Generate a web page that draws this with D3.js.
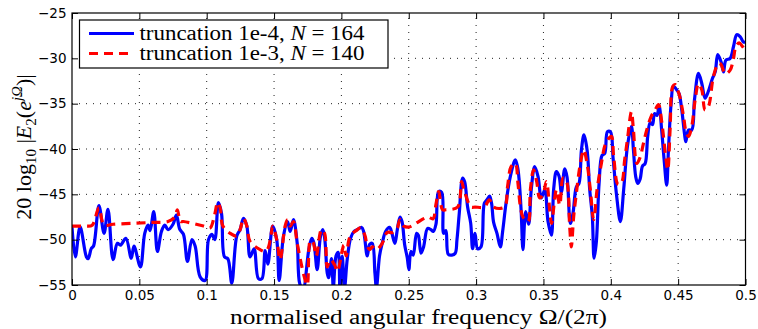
<!DOCTYPE html>
<html><head><meta charset="utf-8">
<script src="https://cdn.jsdelivr.net/npm/d3@7"></script>
<style>body{margin:0;background:#fff} svg{display:block}</style>
</head><body>
<svg id="c" width="758" height="329"></svg>
<script>
const blueFreq = [0.000,0.0025,0.006,0.0107,0.012,0.0144,0.016,0.020,0.0238,0.0267,0.0305,0.0337,0.036,0.040,0.044,0.046,0.0508,0.054,0.0565,0.058,0.0607,0.0634,0.0664,0.0689,0.0713,0.075,0.0775,0.080,0.0827,0.0857,0.089,0.0914,0.0951,0.0988,0.1013,0.1038,0.106,0.1087,0.111,0.1132,0.1157,0.1186,0.1223,0.1248,0.1273,0.1298,0.1322,0.1352,0.1384,0.141,0.1434,0.1454,0.149,0.152,0.1538,0.157,0.160,0.162,0.1644,0.1672,0.169,0.1715,0.1758,0.178,0.1795,0.182,0.1845,0.1862,0.1877,0.1895,0.1905,0.1927,0.194,0.196,0.1976,0.1989,0.2006,0.2023,0.2043,0.2068,0.2093,0.2117,0.215,0.2165,0.2192,0.221,0.2229,0.2249,0.226,0.2283,0.2303,0.2328,0.2358,0.2375,0.2397,0.2415,0.2435,0.245,0.247,0.2489,0.2501,0.2516,0.2533,0.2558,0.2571,0.2591,0.261,0.264,0.2665,0.2682,0.2702,0.2722,0.2745,0.2759,0.2776,0.2793,0.282,0.2845,0.2858,0.2875,0.290,0.2915,0.2937,0.296,0.2974,0.2992,0.3011,0.3036,0.3061,0.3081,0.310,0.3115,0.313,0.3155,0.318,0.3197,0.3222,0.3254,0.3291,0.3308,0.332,0.3335,0.3348,0.3368,0.339,0.341,0.3435,0.346,0.3484,0.351,0.3534,0.3559,0.3576,0.3596,0.3616,0.3633,0.3658,0.3675,0.370,0.372,0.3744,0.3764,0.3782,0.3801,0.3824,0.3843,0.3863,0.3876,0.3893,0.3913,0.3935,0.3955,0.3975,0.3997,0.4017,0.4042,0.4071,0.4096,0.4123,0.4153,0.4168,0.4185,0.42,0.4218,0.4235,0.4255,0.4274,0.4292,0.431,0.4324,0.4342,0.4359,0.4378,0.4396,0.4415,0.4428,0.4448,0.4465,0.449,0.4507,0.4527,0.4547,0.4557,0.4577,0.4601,0.4621,0.4651,0.4676,0.470,0.4725,0.4755,0.4775,0.4794,0.4819,0.4837,0.4854,0.4886,0.4911,0.4935,0.496,0.4985,0.500];
const blueVal = [-48.6,-51.9,-48.6,-51.9,-52.1,-50.95,-50.7,-46.25,-49.3,-46.65,-52.2,-50.4,-50.6,-49.85,-52.05,-50.7,-53.0,-49.3,-48.4,-49.0,-46.9,-51.3,-49.1,-48.4,-48.9,-48.3,-47.3,-48.85,-49.4,-52.4,-50.0,-50.7,-54.1,-54.5,-50.0,-49.4,-50.0,-45.9,-47.1,-51.9,-52.1,-54.8,-49.6,-48.9,-47.65,-48.5,-51.9,-51.0,-54.3,-54.3,-51.2,-52.7,-48.5,-50.0,-54.5,-49.6,-48.0,-49.1,-47.8,-50.4,-54.8,-55.5,-51.1,-49.85,-50.3,-53.3,-49.6,-48.9,-50.0,-53.7,-54.2,-52.1,-55.3,-51.8,-51.4,-55.3,-51.8,-55.3,-52.2,-49.85,-49.1,-48.9,-48.65,-49.1,-51.8,-50.5,-50.4,-53.7,-55.3,-51.8,-50.4,-49.1,-48.65,-49.3,-50.4,-48.9,-47.5,-48.0,-50.6,-52.0,-53.3,-51.3,-51.7,-49.3,-49.5,-51.5,-50.8,-48.75,-48.9,-49.1,-48.3,-44.7,-44.8,-49.3,-49.0,-51.6,-51.7,-51.5,-50.0,-47.1,-43.2,-43.6,-46.4,-48.2,-51.0,-49.3,-51.0,-50.8,-46.0,-45.6,-45.2,-46.0,-48.1,-49.3,-50.8,-49.1,-46.0,-43.05,-41.2,-42.0,-43.5,-47.0,-51.1,-46.9,-48.3,-44.4,-41.95,-43.05,-45.4,-44.5,-48.0,-49.5,-44.4,-42.5,-43.0,-44.8,-42.2,-43.1,-48.2,-47.0,-44.2,-43.8,-40.1,-38.45,-40.1,-44.4,-47.5,-52.05,-50.2,-43.8,-40.7,-40.5,-38.1,-38.1,-41.0,-45.0,-48.0,-44.4,-39.75,-37.5,-40.1,-43.05,-43.8,-43.3,-41.9,-41.6,-38.6,-37.1,-37.3,-36.1,-36.3,-35.3,-38.0,-41.2,-44.0,-40.1,-34.95,-33.05,-33.5,-33.9,-35.7,-38.3,-39.2,-37.9,-37.9,-34.6,-31.65,-32.8,-34.4,-33.6,-32.2,-31.5,-29.6,-30.4,-31.5,-30.2,-30.0,-28.7,-27.4,-27.6,-28.2,-28.2];

const redFreq = [0.000,0.010,0.015,0.020,0.0238,0.0305,0.045,0.059,0.0713,0.0763,0.0782,0.0805,0.0827,0.0976,0.1025,0.1055,0.1082,0.110,0.112,0.1174,0.1223,0.1248,0.1273,0.1298,0.1322,0.1397,0.1434,0.1454,0.1476,0.149,0.152,0.1545,0.1582,0.160,0.162,0.1644,0.1672,0.1721,0.1746,0.177,0.179,0.1813,0.1852,0.1875,0.1895,0.1919,0.195,0.197,0.2006,0.2018,0.2035,0.2056,0.2075,0.211,0.2142,0.2174,0.2192,0.221,0.2229,0.226,0.2303,0.234,0.238,0.2415,0.2435,0.2464,0.2504,0.2553,0.2615,0.2645,0.268,0.2702,0.2722,0.2751,0.2776,0.2863,0.2892,0.291,0.2962,0.2992,0.3061,0.3098,0.313,0.321,0.3234,0.326,0.3291,0.3311,0.3329,0.3348,0.3386,0.3403,0.3427,0.345,0.3472,0.3497,0.3522,0.3547,0.356,0.3596,0.3621,0.3646,0.367,0.3695,0.3707,0.3724,0.3744,0.3774,0.3799,0.3824,0.3848,0.3873,0.3898,0.393,0.3962,0.4004,0.4021,0.4054,0.408,0.4103,0.4123,0.4153,0.4168,0.4193,0.4218,0.4242,0.4267,0.430,0.4329,0.4354,0.4378,0.4408,0.4423,0.444,0.446,0.4478,0.4497,0.4515,0.454,0.456,0.4577,0.4601,0.4626,0.4651,0.4676,0.470,0.4725,0.4762,0.4799,0.4819,0.4849,0.4886,0.4911,0.4928,0.4953,0.4978,0.4998];
const redVal = [-48.5,-48.5,-48.4,-46.5,-48.4,-48.3,-48.2,-48.1,-48.0,-47.5,-46.7,-48.0,-48.0,-48.5,-48.7,-47.5,-45.9,-46.5,-48.5,-49.3,-49.6,-48.9,-47.65,-48.5,-50.2,-51.1,-51.3,-51.0,-49.7,-48.5,-50.0,-52.2,-48.5,-47.8,-48.5,-48.0,-50.4,-53.9,-55.0,-50.1,-50.3,-51.8,-48.9,-49.3,-53.0,-52.2,-52.8,-53.5,-51.2,-50.6,-51.8,-50.0,-49.4,-49.0,-48.7,-49.5,-50.7,-51.1,-50.8,-51.1,-50.4,-49.2,-49.2,-48.7,-47.8,-48.5,-48.6,-48.2,-47.65,-47.5,-47.7,-46.1,-44.7,-46.7,-46.7,-46.4,-43.6,-44.5,-46.4,-46.4,-46.4,-45.6,-46.4,-46.4,-44.1,-41.95,-41.6,-43.8,-46.4,-47.5,-48.0,-44.5,-42.3,-43.6,-45.4,-45.0,-43.6,-46.8,-48.2,-44.5,-46.2,-43.2,-43.5,-48.6,-50.8,-47.5,-44.9,-41.6,-40.1,-41.6,-44.5,-47.8,-44.5,-41.6,-39.4,-38.6,-40.8,-43.9,-43.7,-41.2,-39.0,-35.9,-37.9,-41.6,-40.9,-39.4,-37.9,-36.4,-35.7,-35.1,-37.0,-40.9,-42.3,-37.9,-33.1,-32.9,-33.5,-34.4,-36.4,-38.2,-38.6,-37.5,-34.6,-32.8,-33.5,-35.7,-35.3,-32.0,-30.55,-30.7,-31.7,-31.3,-30.0,-28.7,-28.3,-28.7,-29.1];

const xTicks = [0,0.05,0.1,0.15,0.2,0.25,0.3,0.35,0.4,0.45,0.5];
const xTickLabels = ["0","0.05","0.1","0.15","0.2","0.25","0.3","0.35","0.4","0.45","0.5"];
const yTicks = [-55,-50,-45,-40,-35,-30,-25];
const yTickLabels = ["\u221255","\u221250","\u221245","\u221240","\u221235","\u221230","\u221225"];
const legendPrefix = ["truncation 1e-4, ","truncation 1e-3, "];
const legendN = ["164","140"];
const seriesColors = ["#0000ff","#ff0000"];

const L = 72, R = 745.5, T = 13, B = 285;
const svg = d3.select("#c");
const x = d3.scaleLinear().domain([0,0.5]).range([L,R]);
const y = d3.scaleLinear().domain([-55,-25]).range([B,T]);

// grid
const grid = svg.append("g");
grid.selectAll("line.gx").data(xTicks.slice(1,-1)).join("line")
  .attr("x1",d=>x(d)).attr("x2",d=>x(d)).attr("y1",B).attr("y2",T)
  .attr("stroke","#222").attr("stroke-width",1).attr("stroke-dasharray","1,6");
grid.selectAll("line.gy").data(yTicks.slice(1,-1)).join("line")
  .attr("y1",d=>y(d)).attr("y2",d=>y(d)).attr("x1",L).attr("x2",R)
  .attr("stroke","#222").attr("stroke-width",1).attr("stroke-dasharray","1,6");

svg.append("clipPath").attr("id","clip").append("rect")
  .attr("x",L).attr("y",T).attr("width",R-L).attr("height",B-T);

const line = d3.line().x(d=>x(d[0])).y(d=>y(d[1])).curve(d3.curveCatmullRom.alpha(0.5));
const plot = svg.append("g").attr("clip-path","url(#clip)");
plot.append("path").datum(blueFreq.map((f,i)=>[f,blueVal[i]]))
  .attr("d",line).attr("fill","none").attr("stroke",seriesColors[0]).attr("stroke-width",3.2).attr("stroke-linejoin","round");
plot.append("path").datum(redFreq.map((f,i)=>[f,redVal[i]]))
  .attr("d",line).attr("fill","none").attr("stroke",seriesColors[1]).attr("stroke-width",3.2).attr("stroke-dasharray","9,6");

// axes
const tickFont = "'DejaVu Sans', sans-serif";
const ax = svg.append("g").attr("transform",`translate(0,${B})`)
  .call(d3.axisBottom(x).tickValues(xTicks).tickFormat((d,i)=>xTickLabels[i]).tickSizeInner(-6).tickSizeOuter(0).tickPadding(5));
const ay = svg.append("g").attr("transform",`translate(${L},0)`)
  .call(d3.axisLeft(y).tickValues(yTicks).tickFormat((d,i)=>yTickLabels[i]).tickSizeInner(-6).tickSizeOuter(0).tickPadding(5.5));
const axT = svg.append("g").attr("transform",`translate(0,${T})`)
  .call(d3.axisTop(x).tickValues(xTicks).tickFormat("").tickSizeInner(-6).tickSizeOuter(0));
const ayR = svg.append("g").attr("transform",`translate(${R},0)`)
  .call(d3.axisRight(y).tickValues(yTicks).tickFormat("").tickSizeInner(-6).tickSizeOuter(0));
[ax,ay,axT,ayR].forEach(g=>{
  g.select(".domain").remove();
  g.selectAll("line").attr("stroke","#000");
  g.selectAll("text").attr("font-family",tickFont).attr("font-size","13.5px").attr("fill","#000");
});
svg.append("rect").attr("x",L).attr("y",T).attr("width",R-L).attr("height",B-T)
  .attr("fill","none").attr("stroke","#000").attr("stroke-width",1.2);

// legend
const lg = svg.append("g");
lg.append("rect").attr("x",79.5).attr("y",20).attr("width",308.5).attr("height",48)
  .attr("fill","#fff").attr("stroke","#000").attr("stroke-width",1.2);
const serif = "'Liberation Serif', 'Times New Roman', serif";
legendPrefix.forEach((p,i)=>{
  const yy = 33.5 + i*20;
  lg.append("line").attr("x1",89).attr("x2",134).attr("y1",yy).attr("y2",yy)
    .attr("stroke",seriesColors[i]).attr("stroke-width",3.2)
    .attr("stroke-dasharray", i===1 ? "9,6" : null);
  const t = lg.append("text").attr("x",139.5).attr("y",yy+6).attr("font-family",serif)
    .attr("font-size","20px").attr("textLength",225).attr("lengthAdjust","spacingAndGlyphs");
  t.append("tspan").text(p);
  t.append("tspan").attr("font-style","italic").text("N");
  t.append("tspan").text(" = " + legendN[i]);
});

// axis labels
const xl = svg.append("text").attr("x",418.5).attr("y",324).attr("text-anchor","middle")
  .attr("font-family",serif).attr("font-size","20px").attr("textLength",377).attr("lengthAdjust","spacingAndGlyphs");
xl.append("tspan").text("normalised angular frequency \u03A9/(2\u03C0)");

const yl = svg.append("text").attr("transform","translate(31,147) rotate(-90)")
  .attr("text-anchor","middle").attr("font-family",serif).attr("font-size","22px");
yl.append("tspan").text("20 log");
yl.append("tspan").attr("font-size","15px").attr("dy",5).text("10");
yl.append("tspan").attr("dy",-5).text(" |");
yl.append("tspan").attr("font-style","italic").text("E");
yl.append("tspan").attr("font-size","15px").attr("dy",5).text("2");
yl.append("tspan").attr("dy",-5).text("(");
yl.append("tspan").attr("font-style","italic").text("e");
yl.append("tspan").attr("font-style","italic").attr("font-size","15px").attr("dy",-9).text("j\u03A9");
yl.append("tspan").attr("dy",9).text(")|");
</script>
</body></html>
